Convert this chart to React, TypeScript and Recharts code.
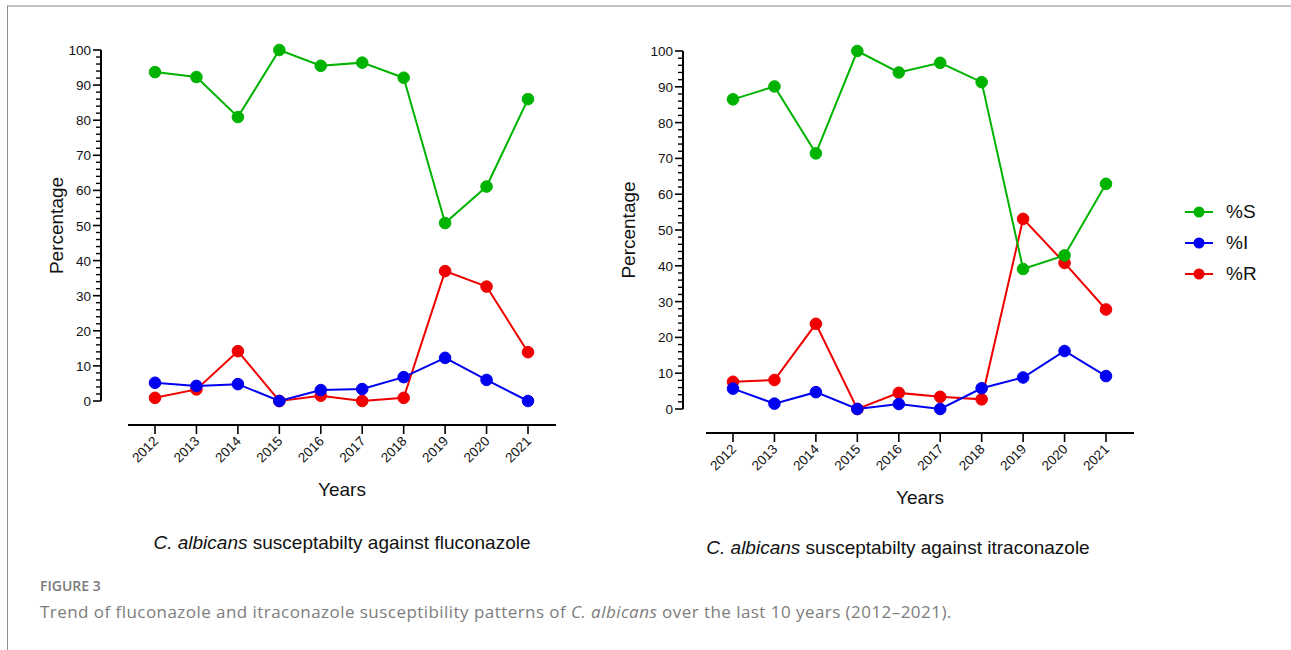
import React from 'react';
import { LineChart, Line, XAxis, YAxis } from 'recharts';

// values (percent per year)
const years = ['2012', '2013', '2014', '2015', '2016', '2017', '2018', '2019', '2020', '2021'];

const flucoS = [93.7, 92.3, 80.9, 100, 95.5, 96.4, 92.1, 50.7, 61.1, 86.0];
const flucoI = [5.2, 4.3, 4.8, 0, 3.1, 3.4, 6.8, 12.3, 6.0, 0];
const flucoR = [0.9, 3.3, 14.2, 0, 1.5, 0, 0.9, 37.0, 32.6, 13.9];

const itraS = [86.5, 90.1, 71.4, 100, 94.0, 96.7, 91.3, 39.1, 42.9, 62.9];
const itraI = [5.7, 1.5, 4.7, 0, 1.4, 0, 5.8, 8.8, 16.2, 9.2];
const itraR = [7.6, 8.1, 23.8, 0, 4.5, 3.4, 2.7, 53.1, 40.8, 27.8];

const majorTicks = [0, 10, 20, 30, 40, 50, 60, 70, 80, 90, 100];
const minorPerMajor = [1, 2, 3, 4]; // minor ticks every 2 units between majors

const seriesNames = ['%S', '%I', '%R'];
const colors: Record<string, string> = { '%S': '#00b300', '%I': '#0000f0', '%R': '#f00000' };

const FONT = '"Liberation Sans", Arial, sans-serif';
const X_GAP = 24;
const X_AXIS_H = 90;

const buildRows = (s: number[], i: number[], r: number[]) =>
  years.map((year, idx) => ({ year, S: s[idx], I: i[idx], R: r[idx] }));

const YTick = (props: any) => {
  const { x, y, payload, step } = props;
  return (
    <g>
      <line x1={x - 8} x2={x} y1={y} y2={y} stroke="#000" strokeWidth={1.6} />
      {payload.value < 100 &&
        minorPerMajor.map(k => (
          <line key={k} x1={x - 5} x2={x} y1={y - k * step} y2={y - k * step} stroke="#000" strokeWidth={1.4} />
        ))}
      <text x={x - 10} y={y} dy={5} textAnchor="end" fontSize={13.5} fontFamily={FONT} fill="#111">
        {payload.value}
      </text>
    </g>
  );
};

const XTick = (props: any) => {
  const { x, y, payload } = props;
  const tx = x + 4;
  const ty = y + 17;
  return (
    <g>
      <line x1={x} x2={x} y1={y} y2={y + 9} stroke="#000" strokeWidth={1.6} />
      <text x={tx} y={ty} textAnchor="end" fontSize={13.5} fontFamily={FONT} fill="#111"
        transform={`rotate(-45, ${tx}, ${ty})`}>
        {payload.value}
      </text>
    </g>
  );
};

interface PanelProps {
  rows: any[];
  left: number;
  width: number;
  height: number;
  margin: { top: number; right: number; bottom: number; left: number };
  yWidth: number;
  yGap: number;
  titleX: number;
}

const Panel: React.FC<PanelProps> = ({ rows, left, width, height, margin, yWidth, yGap, titleX }) => {
  const plotH = height - margin.top - margin.bottom - X_GAP - X_AXIS_H;
  const step = plotH / 50;
  return (
    <div style={{ position: 'absolute', left, top: 0 }}>
      <LineChart width={width} height={height} data={rows} margin={margin}>
        <XAxis xAxisId="gap" dataKey="year" scale="point" height={X_GAP} axisLine={false} tickLine={false} tick={false}
          padding={{ left: 27, right: 28 }} />
        <XAxis xAxisId="main" dataKey="year" scale="point" height={X_AXIS_H} interval={0}
          axisLine={{ stroke: '#000', strokeWidth: 2 }} tickLine={false} tickSize={0} tickMargin={0}
          tick={<XTick />} padding={{ left: 27, right: 28 }}
          label={{
            content: (p: any) => (
              <text x={p.viewBox.x + p.viewBox.width / 2} y={p.viewBox.y + 71} textAnchor="middle"
                fontSize={19} fontFamily={FONT} fill="#111">Years</text>
            ),
          }} />
        <YAxis yAxisId="gap" width={yGap} domain={[0, 100]} axisLine={false} tickLine={false} tick={false} />
        <YAxis yAxisId="main" width={yWidth} domain={[0, 100]} ticks={majorTicks} interval={0}
          axisLine={{ stroke: '#000', strokeWidth: 2 }} tickLine={false} tickSize={0} tickMargin={0}
          tick={<YTick step={step} />}
          label={{
            content: (p: any) => {
              const cx = p.viewBox.x + titleX;
              const cy = p.viewBox.y + p.viewBox.height / 2;
              return (
                <text x={cx} y={cy} textAnchor="middle" dominantBaseline="central" fontSize={19}
                  fontFamily={FONT} fill="#111" transform={`rotate(-90, ${cx}, ${cy})`}>Percentage</text>
              );
            },
          }} />
        <Line xAxisId="main" yAxisId="main" dataKey="R" name="%R" stroke={colors['%R']} strokeWidth={2}
          dot={{ r: 5.8, fill: colors['%R'], stroke: colors['%R'], strokeWidth: 1 }} isAnimationActive={false} />
        <Line xAxisId="main" yAxisId="main" dataKey="I" name="%I" stroke={colors['%I']} strokeWidth={2}
          dot={{ r: 5.8, fill: colors['%I'], stroke: colors['%I'], strokeWidth: 1 }} isAnimationActive={false} />
        <Line xAxisId="main" yAxisId="main" dataKey="S" name="%S" stroke={colors['%S']} strokeWidth={2}
          dot={{ r: 5.8, fill: colors['%S'], stroke: colors['%S'], strokeWidth: 1 }} isAnimationActive={false} />
      </LineChart>
    </div>
  );
};

const captionStyle: React.CSSProperties = {
  position: 'absolute',
  width: 500,
  textAlign: 'center',
  fontFamily: FONT,
  fontSize: 19,
  color: '#111',
  lineHeight: '22px',
};

export default function App() {
  return (
    <div style={{ position: 'absolute', left: 0, top: 0, width: 1291, height: 650, background: '#fff', overflow: 'hidden' }}>
      <div style={{ position: 'absolute', left: 7, top: 5, right: 0, bottom: 0, borderTop: '2px solid #c4c4c4', borderLeft: '1.5px solid #8c8c8c' }} />

      <Panel rows={buildRows(flucoS, flucoI, flucoR)} left={0} width={580} height={520}
        margin={{ top: 50, right: 24, bottom: 5, left: 10 }} yWidth={91} yGap={27} titleX={46} />
      <Panel rows={buildRows(itraS, itraI, itraR)} left={580} width={711} height={530}
        margin={{ top: 51, right: 157, bottom: 7, left: 10 }} yWidth={93} yGap={23} titleX={38} />

      <div style={{ position: 'absolute', left: 1184, top: 196 }}>
        {seriesNames.map(name => (
          <div key={name} style={{ display: 'flex', alignItems: 'center', height: 31 }}>
            <svg width={30} height={14}>
              <line x1={1} x2={29} y1={7} y2={7} stroke={colors[name]} strokeWidth={2} />
              <circle cx={15} cy={7} r={5.5} fill={colors[name]} />
            </svg>
            <span style={{ marginLeft: 12, fontSize: 19, fontFamily: FONT, color: '#111' }}>{name}</span>
          </div>
        ))}
      </div>

      <div style={{ ...captionStyle, left: 342 - 250, top: 532 }}>
        <i>C. albicans</i> susceptabilty against fluconazole
      </div>
      <div style={{ ...captionStyle, left: 898 - 250, top: 537 }}>
        <i>C. albicans</i> susceptabilty against itraconazole
      </div>

      <div style={{ position: 'absolute', left: 40, top: 576, fontFamily: '"Open Sans", sans-serif', fontSize: 14, fontWeight: 600, color: '#7a7a7a' }}>
        FIGURE 3
      </div>
      <div style={{ position: 'absolute', left: 40, top: 600, fontFamily: '"Open Sans", sans-serif', fontSize: 17, letterSpacing: 0.45, color: '#7d7d7d', whiteSpace: 'nowrap' }}>
        Trend of fluconazole and itraconazole susceptibility patterns of <i>C. albicans</i> over the last 10 years (2012–2021).
      </div>
    </div>
  );
}
